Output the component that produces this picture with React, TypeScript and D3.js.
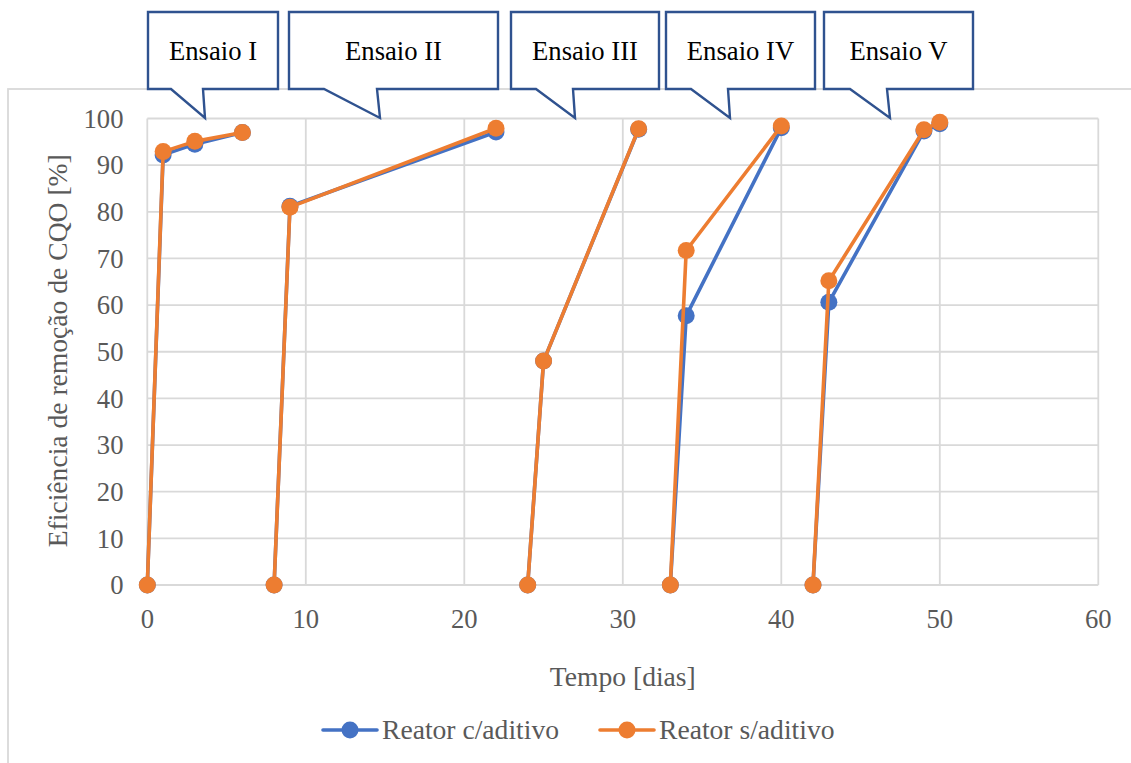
import React from "react";
import * as d3 from "d3";

// Tempo (dias) de cada medição e o ensaio a que pertence
const dias = [0, 1, 3, 6, 8, 9, 22, 24, 25, 31, 33, 34, 40, 42, 43, 49, 50];
const ensaio = [0, 0, 0, 0, 1, 1, 1, 2, 2, 2, 3, 3, 3, 4, 4, 4, 4];

// Eficiência de remoção de CQO [%]
const reatorComAditivo = [0, 92.2, 94.5, 97.0, 0, 81.2, 97.1, 0, 48.0, 97.7, 0, 57.7, 98.0, 0, 60.6, 97.3, 98.9];
const reatorSemAditivo = [0, 92.9, 95.1, 97.0, 0, 81.0, 97.9, 0, 48.0, 97.8, 0, 71.7, 98.4, 0, 65.2, 97.6, 99.2];

const seriesNames = ["Reator c/aditivo", "Reator s/aditivo"];
const ensaioLabels = ["Ensaio I", "Ensaio II", "Ensaio III", "Ensaio IV", "Ensaio V"];

const xTicks = [0, 10, 20, 30, 40, 50, 60];
const yTicks = [0, 10, 20, 30, 40, 50, 60, 70, 80, 90, 100];

const xTitle = "Tempo [dias]";
const yTitle = "Eficiência de remoção de CQO [%]";

// Callout geometry: box left/right, pointer base start/end, tip x (pixels)
const calloutLayout = [
  { l: 148, r: 278, b0: 171, b1: 203, tip: 205 },
  { l: 289, r: 498, b0: 324, b1: 377, tip: 380 },
  { l: 511, r: 659, b0: 536, b1: 573, tip: 575 },
  { l: 666, r: 815, b0: 691, b1: 728, tip: 730 },
  { l: 824, r: 973, b0: 850, b1: 887, tip: 890 },
];

const W = 1131;
const H = 763;
const FONT = "'Liberation Serif', 'Times New Roman', serif";
const FS = 26.67;
const FS_TITLE = 27.6;
const GRID = "#D9D9D9";
const TXT = "#595959";
const COLORS = ["#4472C4", "#ED7D31"];

export default function App() {
  const x = d3.scaleLinear().domain([0, 60]).range([147.3, 1098.3]);
  const y = d3.scaleLinear().domain([0, 100]).range([585, 118.5]);

  const seriesValues = [reatorComAditivo, reatorSemAditivo];

  const segments = (vals: number[]) => {
    const groups = d3.groups(
      dias.map((d, i) => ({ d, v: vals[i], e: ensaio[i] })),
      (p) => p.e
    );
    return groups.map(([, pts]) => pts);
  };

  const line = d3
    .line<{ d: number; v: number }>()
    .x((p) => x(p.d))
    .y((p) => y(p.v));

  const boxTop = 12;
  const boxBottom = 89;
  const tipY = 118;

  return (
    <svg
      width={W}
      height={H}
      style={{ position: "absolute", left: 0, top: 0, background: "#fff" }}
      fontFamily={FONT}
    >
      <rect x={0} y={0} width={W} height={H} fill="#fff" />
      {/* chart area frame */}
      <rect x={8} y={89} width={W + 50} height={H + 50} fill="none" stroke={GRID} strokeWidth={1.8} />

      {/* gridlines */}
      {yTicks.map((t) => (
        <line key={"gy" + t} x1={x(0)} x2={x(60)} y1={y(t)} y2={y(t)} stroke={GRID} strokeWidth={1.8} />
      ))}
      {xTicks.map((t) => (
        <line key={"gx" + t} x1={x(t)} x2={x(t)} y1={y(0)} y2={y(100)} stroke={GRID} strokeWidth={1.8} />
      ))}

      {/* tick labels */}
      {yTicks.map((t) => (
        <text key={"ly" + t} x={123.5} y={y(t)} dy="0.35em" textAnchor="end" fontSize={FS} fill={TXT} fontFamily={FONT}>
          {t}
        </text>
      ))}
      {xTicks.map((t) => (
        <text key={"lx" + t} x={x(t)} y={628} textAnchor="middle" fontSize={FS} fill={TXT} fontFamily={FONT}>
          {t}
        </text>
      ))}

      {/* axis titles */}
      <text x={x(30)} y={686} textAnchor="middle" fontSize={FS_TITLE} fill={TXT} fontFamily={FONT}>
        {xTitle}
      </text>
      <text
        transform={`translate(67,${y(50) - 1}) rotate(-90)`}
        textAnchor="middle"
        fontSize={FS_TITLE}
        fill={TXT}
        fontFamily={FONT}
      >
        {yTitle}
      </text>

      {/* series */}
      {seriesValues.map((vals, si) => (
        <g key={"s" + si}>
          {segments(vals).map((pts, k) => (
            <path
              key={k}
              d={line(pts) || ""}
              fill="none"
              stroke={COLORS[si]}
              strokeWidth={3.6}
              strokeLinejoin="round"
              strokeLinecap="round"
            />
          ))}
          {dias.map((d, i) => (
            <circle key={i} cx={x(d)} cy={y(vals[i])} r={8.5} fill={COLORS[si]} />
          ))}
        </g>
      ))}

      {/* callouts */}
      {calloutLayout.map((c, i) => {
        const d = `M${c.l},${boxTop} L${c.r},${boxTop} L${c.r},${boxBottom} L${c.b1},${boxBottom} L${c.tip},${tipY} L${c.b0},${boxBottom} L${c.l},${boxBottom} Z`;
        return (
          <g key={"c" + i}>
            <path d={d} fill="#fff" stroke="#2F528F" strokeWidth={2.4} strokeLinejoin="miter" />
            <text
              x={(c.l + c.r) / 2}
              y={(boxTop + boxBottom) / 2}
              dy="0.35em"
              textAnchor="middle"
              fontSize={FS}
              fill="#000"
              fontFamily={FONT}
            >
              {ensaioLabels[i]}
            </text>
          </g>
        );
      })}

      {/* legend */}
      {seriesNames.map((name, i) => {
        const x0 = i === 0 ? 323 : 600;
        return (
          <g key={"lg" + i}>
            <line x1={x0} x2={x0 + 54} y1={730} y2={730} stroke={COLORS[i]} strokeWidth={3.6} strokeLinecap="round" />
            <circle cx={x0 + 27} cy={730} r={8.5} fill={COLORS[i]} />
            <text x={x0 + 59} y={739} fontSize={FS_TITLE} fill={TXT} fontFamily={FONT}>
              {name}
            </text>
          </g>
        );
      })}
    </svg>
  );
}
